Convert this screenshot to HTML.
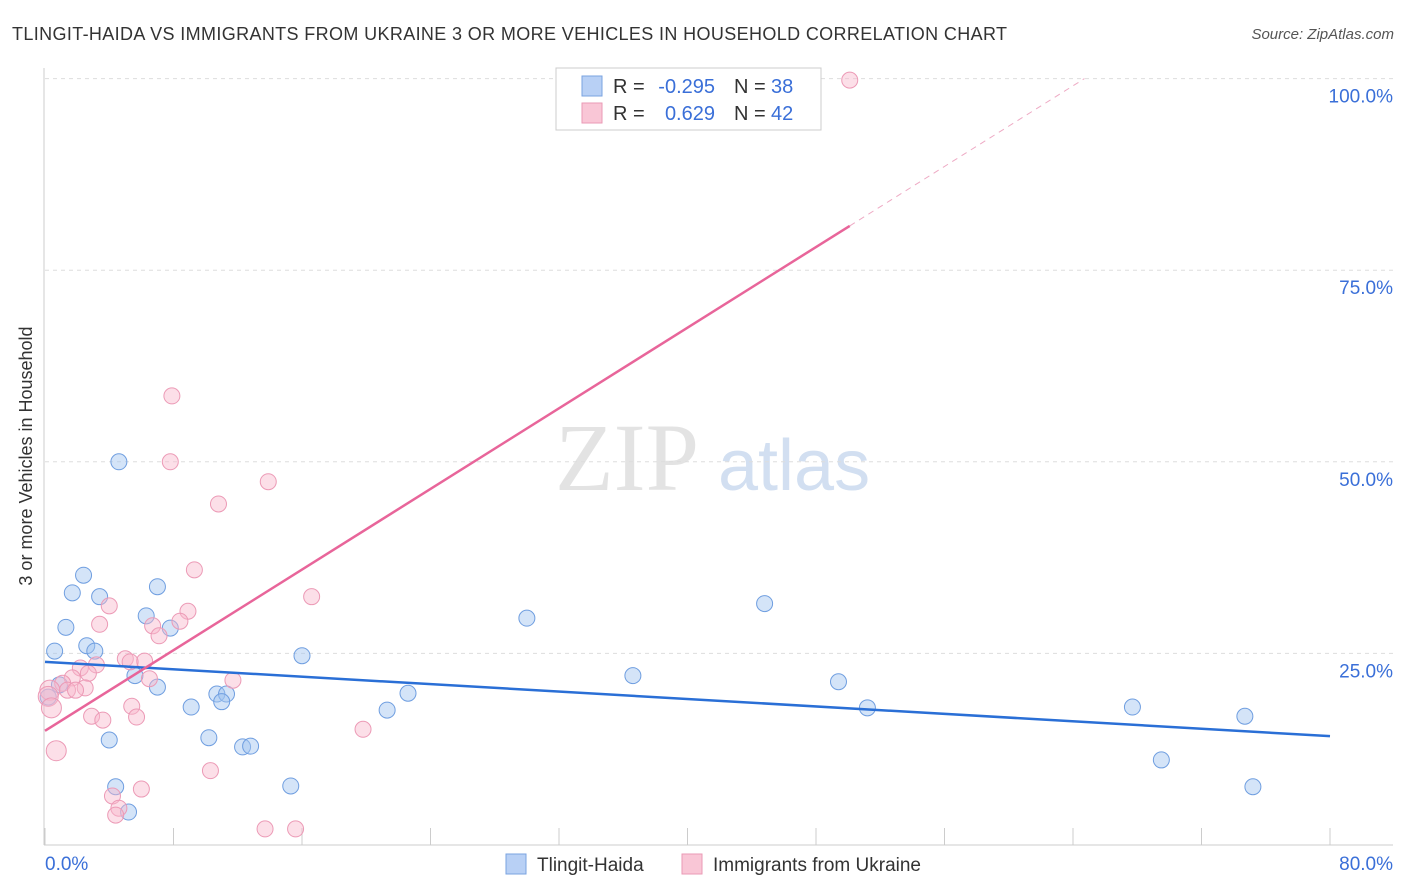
<!DOCTYPE html>
<html><head><meta charset="utf-8"><style>
body{margin:0;background:#fff;font-family:"Liberation Sans",sans-serif}
svg{display:block}
</style></head><body>
<svg id="c" width="1406" height="892" xmlns="http://www.w3.org/2000/svg">
<text x="12" y="40" font-size="18" fill="#333" textLength="995">TLINGIT-HAIDA VS IMMIGRANTS FROM UKRAINE 3 OR MORE VEHICLES IN HOUSEHOLD CORRELATION CHART</text>
<text x="1394" y="39" font-size="15" fill="#555" font-style="italic" text-anchor="end">Source: ZipAtlas.com</text>
<text x="32" y="456" font-size="18" fill="#333" text-anchor="middle" transform="rotate(-90 32 456)">3 or more Vehicles in Household</text>
<g><text x="555" y="490" font-size="96" fill="#ddd" font-family="Liberation Serif" opacity="0.8">ZIP</text><text x="718" y="490" font-size="72" fill="#c8d8ee" opacity="0.8">atlas</text></g>
<g id="grid"></g><g id="axes"></g><g id="marks"></g>
<g>
<rect x="556" y="68" width="265" height="62" fill="#fff" stroke="#ccc"/>
<rect x="582" y="76" width="20" height="20" fill="#b8d0f5" stroke="#7aa3e0"/>
<rect x="582" y="103" width="20" height="20" fill="#f9c6d6" stroke="#ea9ab5"/>
<g font-size="20" fill="#333">
<text x="613" y="93">R =</text><text x="715" y="93" text-anchor="end" fill="#3a6fd8">-0.295</text><text x="734" y="93">N =</text><text x="771" y="93" fill="#3a6fd8">38</text>
<text x="613" y="120">R =</text><text x="715" y="120" text-anchor="end" fill="#3a6fd8">0.629</text><text x="734" y="120">N =</text><text x="771" y="120" fill="#3a6fd8">42</text>
</g>
</g>
<g>
<rect x="506" y="854" width="20" height="20" fill="#b8d0f5" stroke="#7aa3e0"/>
<text x="537" y="871" font-size="19" fill="#333">Tlingit-Haida</text>
<rect x="682" y="854" width="20" height="20" fill="#f9c6d6" stroke="#ea9ab5"/>
<text x="713" y="871" font-size="19" fill="#333">Immigrants from Ukraine</text>
</g>
</svg>
<script>
const blueX=[4.6,2.4,1.7,7.0,3.4,6.3,1.3,7.8,0.6,2.6,3.1,5.6,7.0,0.9,0.2,9.1,10.7,11.3,11.0,10.2,4.0,12.3,12.8,16.0,21.3,22.6,30.0,36.6,44.8,49.4,51.2,67.7,69.5,74.7,75.2,15.3,4.4,5.2];
const blueY=[50.0,35.2,32.9,33.7,32.4,29.9,28.4,28.3,25.3,26.0,25.3,22.1,20.6,20.9,19.3,18.0,19.7,19.7,18.7,14.0,13.7,12.8,12.9,24.7,17.6,19.8,29.6,22.1,31.5,21.3,17.9,18.0,11.1,16.8,7.6,7.7,7.6,4.3];
const pinkX=[50.1,7.9,7.8,13.9,10.8,9.3,16.6,4.0,8.9,3.4,8.4,6.7,7.1,5.0,6.2,5.3,3.2,2.2,2.7,1.7,1.1,1.4,2.5,1.9,0.3,0.2,11.7,6.5,0.4,2.9,3.6,5.4,5.7,19.8,0.7,10.3,6.0,4.2,4.6,4.4,13.7,15.6];
const pinkY=[99.8,58.6,50.0,47.4,44.5,35.9,32.4,31.2,30.5,28.8,29.2,28.6,27.3,24.3,24.0,23.9,23.5,23.1,22.4,21.8,21.1,20.2,20.5,20.2,20.2,19.4,21.5,21.7,17.9,16.8,16.3,18.1,16.7,15.1,12.3,9.7,7.3,6.4,4.8,3.9,2.1,2.1];
const yTicks=[25,50,75,100];
const yTickLabels=["25.0%","50.0%","75.0%","100.0%"];
const xTickLabels=["0.0%","80.0%"];
const blueLine=[23.9,14.2];
const pinkLine=[14.9,1.315];
const NS="http://www.w3.org/2000/svg";
const X=v=>45+v/80*1285, Y=v=>845-v*7.664;
function mk(t,a,p){const e=document.createElementNS(NS,t);for(const k in a)e.setAttribute(k,a[k]);p.appendChild(e);return e;}
const grid=document.getElementById('grid'),axes=document.getElementById('axes'),marks=document.getElementById('marks');
yTicks.forEach((t,i)=>{
 const l=mk('line',{x1:45,x2:1393,y1:Y(t),y2:Y(t),stroke:'#ddd','stroke-dasharray':'4,4'},grid);
 
 
 const tx=mk('text',{x:1393,y:Y(t)+24,'font-size':19,fill:'#3a6fd8','text-anchor':'end'},axes);
 tx.textContent=yTickLabels[i];
 
 
});
let a=mk('line',{x1:44,x2:44,y1:68,y2:845,stroke:'#ccc'},axes);


a=mk('line',{x1:44,x2:1393,y1:845,y2:845,stroke:'#ccc'},axes);


for(let i=0;i<=10;i++){const t=mk('line',{x1:X(i*8),x2:X(i*8),y1:828,y2:845,stroke:'#ccc'},axes);
 
 }
let t0=mk('text',{x:45,y:870,'font-size':19,fill:'#3a6fd8'},axes);t0.textContent=xTickLabels[0];


t0=mk('text',{x:1393,y:870,'font-size':19,fill:'#3a6fd8','text-anchor':'end'},axes);t0.textContent=xTickLabels[1];


blueX.forEach((x,i)=>{const c=mk('circle',{cx:X(x),cy:Y(blueY[i]),r:8,fill:'rgba(160,195,240,0.45)',stroke:'#6f9ee0','stroke-width':1},marks);
 
 });
pinkX.forEach((x,i)=>{const c=mk('circle',{cx:X(x),cy:Y(pinkY[i]),r:x<1?10:8,fill:'rgba(248,185,205,0.45)',stroke:'#ec9ab6','stroke-width':1},marks);
 
 });
let r=mk('line',{x1:X(0),y1:Y(blueLine[0]),x2:X(80),y2:Y(blueLine[1]),stroke:'#2a6fd6','stroke-width':2.5},marks);


const xe=Math.max(...pinkX), xd=(100-pinkLine[0])/pinkLine[1];
r=mk('line',{x1:X(0),y1:Y(pinkLine[0]),x2:X(xe),y2:Y(pinkLine[0]+pinkLine[1]*xe),stroke:'#e8659a','stroke-width':2.5},marks);


r=mk('line',{x1:X(xe),y1:Y(pinkLine[0]+pinkLine[1]*xe),x2:X(xd),y2:Y(100),stroke:'#eeaac4','stroke-width':1,'stroke-dasharray':'6,5'},marks);


</script>
</body></html>
